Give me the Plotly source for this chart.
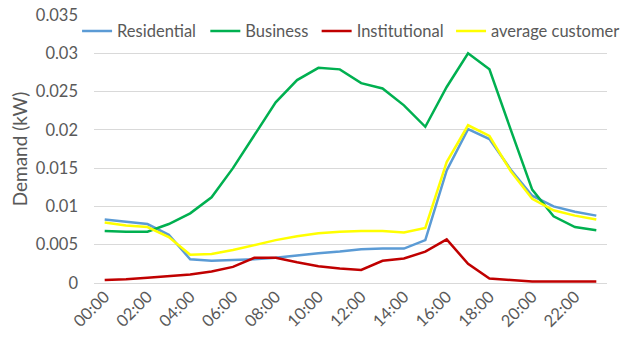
import plotly.graph_objects as go

hours = [f"{h:02d}:00" for h in range(24)]
residential = [0.0083, 0.0080, 0.0077, 0.0063, 0.0031, 0.0029, 0.0030, 0.0031, 0.0033, 0.0036, 0.0039, 0.0041,
               0.0044, 0.0045, 0.0045, 0.0056, 0.0147, 0.0201, 0.0188, 0.0148, 0.0114, 0.0100, 0.0093, 0.0088]
business = [0.0068, 0.0067, 0.0067, 0.0077, 0.0091, 0.0112, 0.0150, 0.0193, 0.0236, 0.0265, 0.0281, 0.0279,
            0.0261, 0.0254, 0.0232, 0.0204, 0.0256, 0.0300, 0.0279, 0.0200, 0.0122, 0.0087, 0.0073, 0.0069]
institutional = [0.0004, 0.0005, 0.0007, 0.0009, 0.0011, 0.0015, 0.0021, 0.0033, 0.0033, 0.0027, 0.0022, 0.0019,
                 0.0017, 0.0029, 0.0032, 0.0041, 0.0057, 0.0025, 0.0006, 0.0004, 0.0002, 0.0002, 0.0002, 0.0002]
average = [0.0079, 0.0075, 0.0073, 0.0060, 0.0037, 0.0038, 0.0043, 0.0050, 0.0056, 0.0061, 0.0065, 0.0067,
           0.0068, 0.0068, 0.0066, 0.0072, 0.0158, 0.0206, 0.0192, 0.0146, 0.0110, 0.0095, 0.0088, 0.0083]
tick_labels = hours[::2]
y_ticks = [0, 0.005, 0.01, 0.015, 0.02, 0.025, 0.03, 0.035]
y_tick_text = ["0", "0.005", "0.01", "0.015", "0.02", "0.025", "0.03", "0.035"]

series = [
    ("Residential", residential, "#5B9BD5"),
    ("Business", business, "#00B050"),
    ("Institutional", institutional, "#C00000"),
    ("average customer", average, "#FFFF00"),
]
# separate legend boxes so each entry sits where the reference puts it
legend_ids = ["legend", "legend2", "legend3", "legend4"]
legend_x = [-0.033, 0.217, 0.434, 0.696]

fig = go.Figure()
for (name, vals, color), lid in zip(series, legend_ids):
    fig.add_trace(go.Scatter(x=hours, y=vals, name=name, mode="lines",
                             line=dict(color=color, width=2.5), legend=lid))

font_family = "Lato, 'Open Sans', sans-serif"
grey = "#595959"
legend_common = dict(orientation="h", xanchor="left", y=1.005, yanchor="top",
                     font=dict(size=16.5, color=grey), bgcolor="rgba(255,255,255,0)",
                     itemwidth=30)
layout_legends = {lid: dict(legend_common, x=lx) for lid, lx in zip(legend_ids, legend_x)}

fig.update_layout(
    width=627, height=343,
    margin=dict(l=94, r=2, t=15, b=60),
    paper_bgcolor="white", plot_bgcolor="white",
    font=dict(family=font_family, size=16, color=grey),
    showlegend=True,
    xaxis=dict(type="category", tickmode="array", tickvals=tick_labels, ticktext=tick_labels,
               tickangle=-45, showgrid=False, showline=False, ticks="",
               range=[-0.5, 23.5], tickfont=dict(size=16.5, color=grey)),
    yaxis=dict(range=[0, 0.035], tickmode="array", tickvals=y_ticks, ticktext=y_tick_text,
               showgrid=True, gridcolor="#D9D9D9", gridwidth=1, zeroline=True,
               zerolinecolor="#D9D9D9", zerolinewidth=1, showline=False, ticks="",
               ticklabelstandoff=15,
               title=dict(text="Demand (kW)", font=dict(size=19, color=grey), standoff=3),
               tickfont=dict(size=16.5, color=grey)),
    **layout_legends,
)

fig.write_html("out.html")
